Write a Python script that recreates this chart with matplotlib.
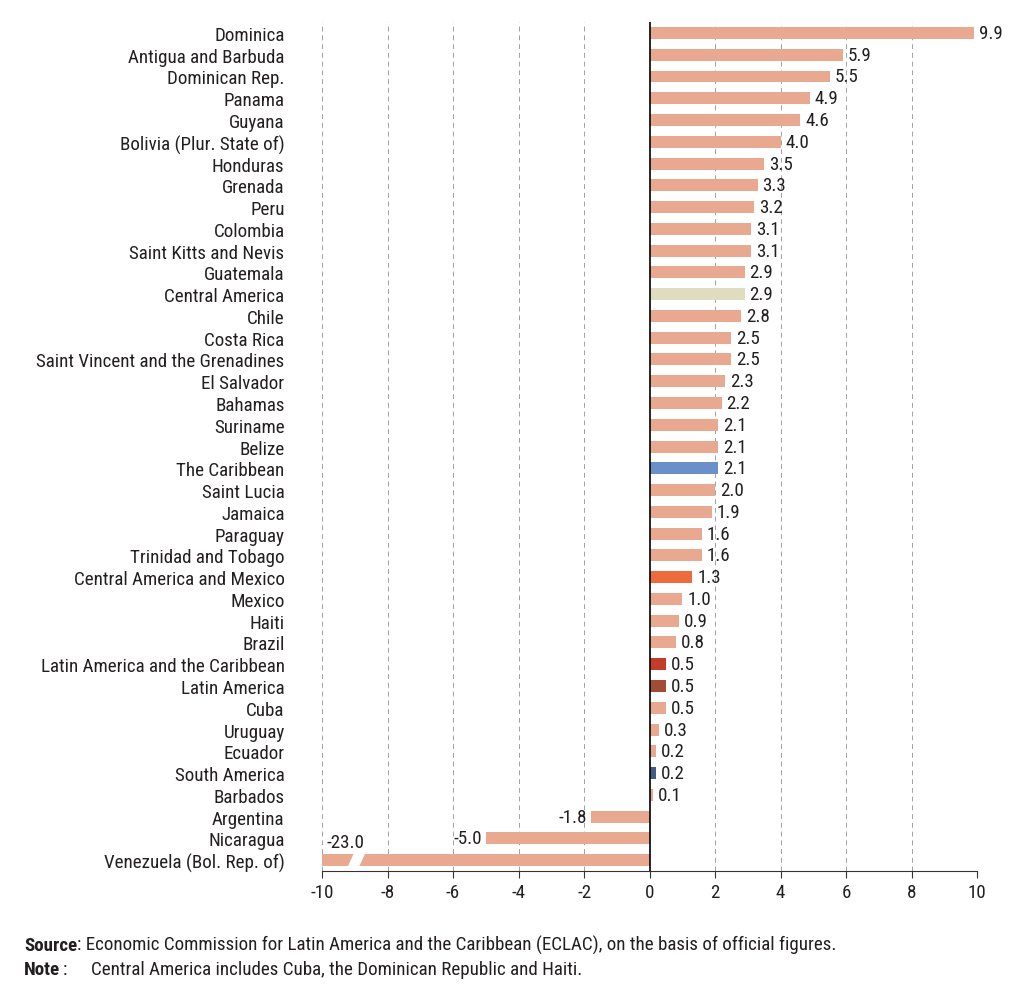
import matplotlib
matplotlib.use("Agg")
from matplotlib import pyplot as plt
from matplotlib.patches import Polygon

plt.rcParams['font.family'] = ['Roboto Condensed', 'Liberation Sans Narrow', 'Liberation Sans', 'DejaVu Sans']

countries = [
    "Dominica", "Antigua and Barbuda", "Dominican Rep.", "Panama", "Guyana",
    "Bolivia (Plur. State of)", "Honduras", "Grenada", "Peru", "Colombia",
    "Saint Kitts and Nevis", "Guatemala", "Central America", "Chile", "Costa Rica",
    "Saint Vincent and the Grenadines", "El Salvador", "Bahamas", "Suriname", "Belize",
    "The Caribbean", "Saint Lucia", "Jamaica", "Paraguay", "Trinidad and Tobago",
    "Central America and Mexico", "Mexico", "Haiti", "Brazil",
    "Latin America and the Caribbean", "Latin America", "Cuba", "Uruguay", "Ecuador",
    "South America", "Barbados", "Argentina", "Nicaragua", "Venezuela (Bol. Rep. of)",
]
growth = [
    9.9, 5.9, 5.5, 4.9, 4.6, 4.0, 3.5, 3.3, 3.2, 3.1,
    3.1, 2.9, 2.9, 2.8, 2.5, 2.5, 2.3, 2.2, 2.1, 2.1,
    2.1, 2.0, 1.9, 1.6, 1.6, 1.3, 1.0, 0.9, 0.8, 0.5,
    0.5, 0.5, 0.3, 0.2, 0.2, 0.1, -1.8, -5.0, -23.0,
]

base_color = "#E9A991"
highlight = {
    "Central America": "#E0DCC0",
    "The Caribbean": "#6B8FC9",
    "Central America and Mexico": "#EE6B3D",
    "Latin America and the Caribbean": "#C23B2B",
    "Latin America": "#A24C36",
    "South America": "#3F5B86",
}
colors = [highlight.get(c, base_color) for c in countries]

XMIN, XMAX = -10, 10
FS = 13.7
txt_color = "#231f20"

fig = plt.figure(figsize=(10.24, 10.03), dpi=100)
ax = fig.add_axes([0.3145, 0.1306, 0.6397, 0.8464])

ypos = list(range(len(countries)))
plot_vals = [max(v, XMIN) for v in growth]
bars = ax.barh(ypos, plot_vals, height=0.55, color=colors, zorder=2)

ax.set_ylim(len(countries) - 0.5, -0.5)
ax.set_xlim(XMIN, XMAX)

# dashed grid
for x in range(XMIN, XMAX + 1, 2):
    if x != 0:
        ax.axvline(x, color="#a0a0a0", linestyle=(0, (5, 4)), linewidth=0.7, zorder=1)
ax.axvline(0, color="black", linewidth=1.2, zorder=3)

# value labels
for y, v in zip(ypos, growth):
    if v < XMIN:
        ax.text(XMIN + 0.15, y - 0.42, f"{v:.1f}", ha="left", va="bottom", fontsize=FS, color=txt_color)
        # break mark
        h = 0.5
        poly = Polygon([(-9.25, y + h), (-8.95, y - h), (-8.65, y - h), (-8.95, y + h)],
                       closed=True, color="white", zorder=4)
        ax.add_patch(poly)
    elif v < 0:
        ax.text(v - 0.12, y, f"{v:.1f}", ha="right", va="center", fontsize=FS, color=txt_color)
    else:
        ax.text(v + 0.15, y, f"{v:.1f}", ha="left", va="center", fontsize=FS, color=txt_color)

ax.set_yticks(ypos)
ax.set_yticklabels(countries, fontsize=FS, color=txt_color)
ax.tick_params(axis="y", length=0, pad=27)

ax.set_xticks(range(XMIN, XMAX + 1, 2))
ax.set_xticklabels([str(x) for x in range(XMIN, XMAX + 1, 2)], fontsize=FS, color=txt_color)
ax.tick_params(axis="x", length=5, color="#333333", direction="out")

for side in ["top", "right", "left"]:
    ax.spines[side].set_visible(False)
ax.spines["bottom"].set_color("#333333")

# footer
src = fig.text(0.0235, 0.052, "Source", fontsize=FS, fontweight="bold", color=txt_color)
ax.annotate(": Economic Commission for Latin America and the Caribbean (ECLAC), on the basis of official figures.",
            xy=(1, 0), xycoords=src, fontsize=FS, color=txt_color, va="bottom")
note = fig.text(0.0235, 0.028, "Note", fontsize=FS, fontweight="bold", color=txt_color)
ax.annotate(":", xy=(1, 0), xycoords=note, xytext=(2, 0), textcoords="offset points",
            fontsize=FS, color=txt_color, va="bottom")
fig.text(0.089, 0.028, "Central America includes Cuba, the Dominican Republic and Haiti.",
         fontsize=FS, color=txt_color)

fig.savefig("out.png", dpi=100, facecolor="white")
